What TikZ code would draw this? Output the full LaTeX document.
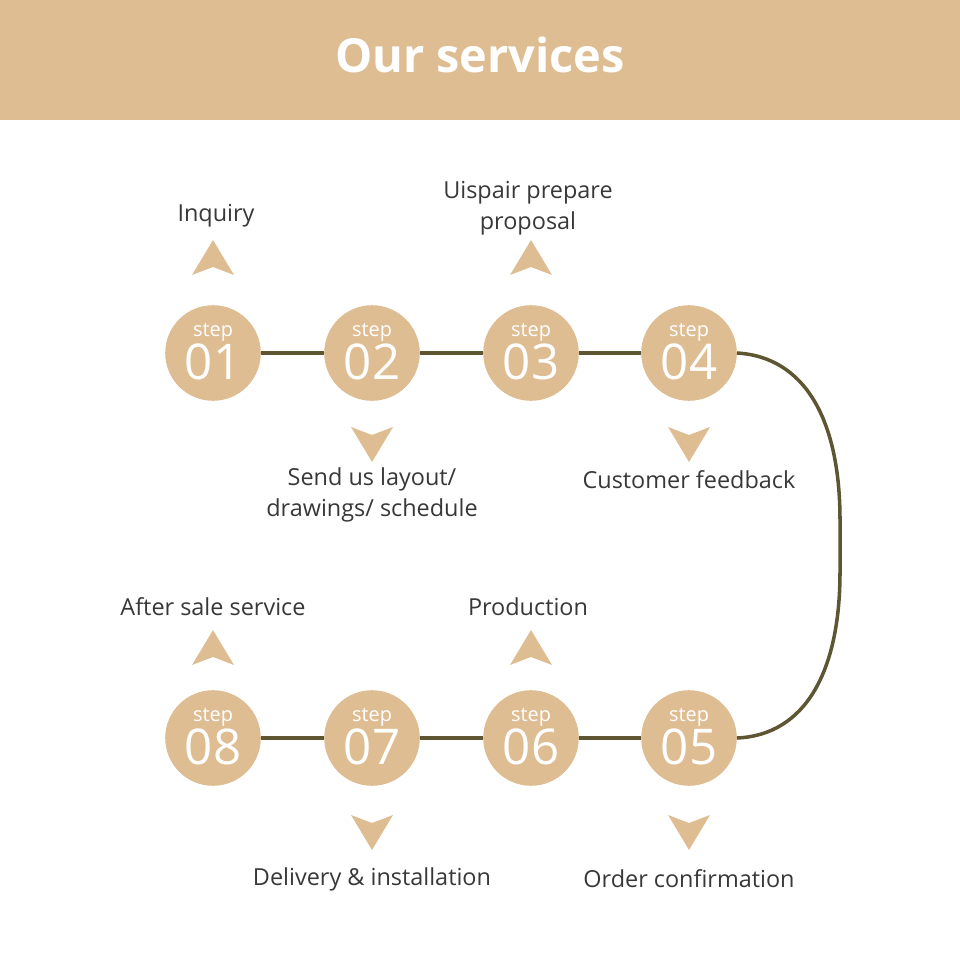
\documentclass[tikz,border=0pt]{standalone}
\usepackage{fontspec}
\setsansfont{Open Sans}
\renewcommand{\familydefault}{\sfdefault}
\usetikzlibrary{positioning}
\definecolor{tan}{HTML}{DFBD93}
\definecolor{olive}{HTML}{5E5632}
\definecolor{txt}{HTML}{383838}

% arrow markers: tip at (#1,#2)
\newcommand{\uparr}[2]{\fill[tan] (#1,#2) -- ++(-21,35) -- ++(21,-8) -- ++(21,8) -- cycle;}
\newcommand{\dnarr}[2]{\fill[tan] (#1,#2) -- ++(-21,-35) -- ++(21,8) -- ++(21,-8) -- cycle;}

\begin{document}
\begin{tikzpicture}[x=0.03cm,y=-0.03cm]
\tikzstyle{every node}+=[inner sep=0pt]
\tikzstyle{stepnode}=[circle,fill=tan,minimum size=96*0.85pt,text=white,align=center]
\tikzstyle{lbl}=[text=txt,align=center,font=\fontsize{20}{26}\selectfont]
\tikzstyle{link}=[olive,line width=3pt]
\useasboundingbox (0,0) rectangle (960,960);
% header
\fill[tan] (0,0) rectangle (960,120);
\node[text=white,font=\fontsize{40}{48}\selectfont\bfseries] (title) at (480,55) {Our services};
% steps
\node[stepnode] (s1) at (213,353) {};
\node[stepnode] (s2) at (372,353) {};
\node[stepnode] (s3) at (531,353) {};
\node[stepnode] (s4) at (689,353) {};
\node[stepnode] (s5) at (689,738) {};
\node[stepnode] (s6) at (531,738) {};
\node[stepnode] (s7) at (372,738) {};
\node[stepnode] (s8) at (213,738) {};
\foreach \n/\t in {1/01,2/02,3/03,4/04,5/05,6/06,7/07,8/08}{
  \node[text=white,font=\fontsize{17}{17}\selectfont] (k\n) at ([yshift=18pt]s\n.center) {step};
  \node[text=white,font=\fontsize{42}{42}\selectfont] (d\n) at ([yshift=-8pt]s\n.center) {\t};
}
% connectors
\draw[link] (s1) -- (s2);
\draw[link] (s2) -- (s3);
\draw[link] (s3) -- (s4);
\draw[link] (s8) -- (s7);
\draw[link] (s7) -- (s6);
\draw[link] (s6) -- (s5);
\draw[link] (s4.east) .. controls (805,357) and (840,420) .. (840,520) -- (840,572)
  .. controls (840,672) and (805,735) .. (s5.east);
% arrows
\uparr{213}{240}
\dnarr{372}{462}
\uparr{531}{240}
\dnarr{689}{462}
\uparr{213}{630}
\dnarr{372}{850}
\uparr{531}{630}
\dnarr{689}{850}
% labels
\node[lbl] (l1) at (216,216) {Inquiry};
\node[lbl] (l2) at (372,495) {Send us layout/\\drawings/ schedule};
\node[lbl] (l3) at (528,208) {Uispair prepare\\proposal};
\node[lbl] (l4) at (689,480) {Customer feedback};
\node[lbl] (l5) at (689,879) {Order confirmation};
\node[lbl] (l6) at (528,607) {Production};
\node[lbl] (l7) at (372,879) {Delivery \& installation};
\node[lbl] (l8) at (213,607) {After sale service};
\end{tikzpicture}
\end{document}
